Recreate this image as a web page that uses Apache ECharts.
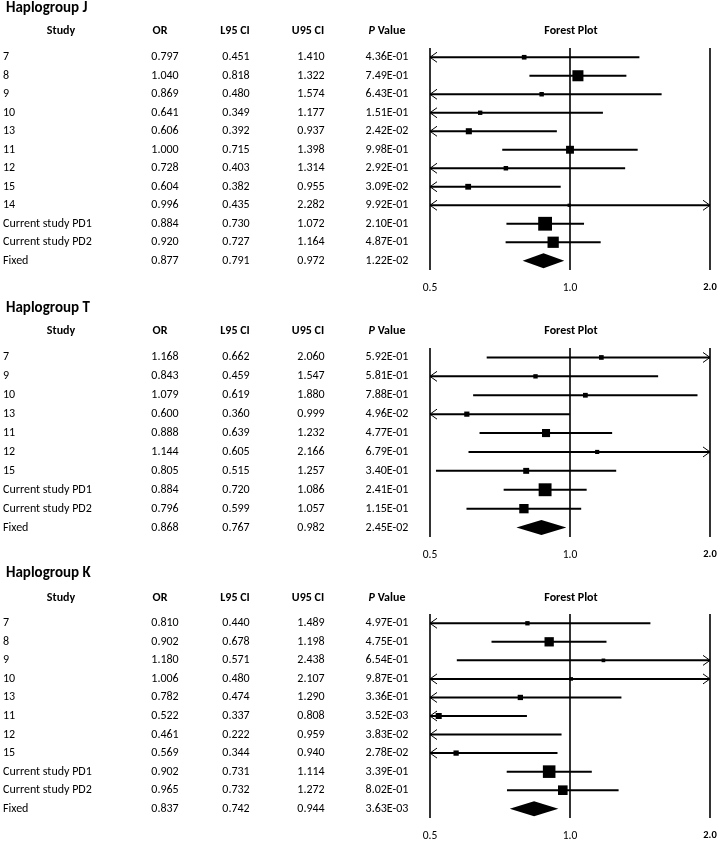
<!DOCTYPE html>
<html><head><meta charset="utf-8">
<script src="https://cdn.jsdelivr.net/npm/echarts@6/dist/echarts.min.js"></script>
<style>html,body{margin:0;padding:0;background:#fff}#c{width:720px;height:843px}</style>
</head><body><div id="c"></div>
<script>
// ---------- data ----------
const jStudy = ['7','8','9','10','13','11','12','15','14','Current study PD1','Current study PD2','Fixed'];
const jOR  = [0.797,1.040,0.869,0.641,0.606,1.000,0.728,0.604,0.996,0.884,0.920,0.877];
const jL95 = [0.451,0.818,0.480,0.349,0.392,0.715,0.403,0.382,0.435,0.730,0.727,0.791];
const jU95 = [1.410,1.322,1.574,1.177,0.937,1.398,1.314,0.955,2.282,1.072,1.164,0.972];
const jP   = ['4.36E-01','7.49E-01','6.43E-01','1.51E-01','2.42E-02','9.98E-01','2.92E-01','3.09E-02','9.92E-01','2.10E-01','4.87E-01','1.22E-02'];

const tStudy = ['7','9','10','13','11','12','15','Current study PD1','Current study PD2','Fixed'];
const tOR  = [1.168,0.843,1.079,0.600,0.888,1.144,0.805,0.884,0.796,0.868];
const tL95 = [0.662,0.459,0.619,0.360,0.639,0.605,0.515,0.720,0.599,0.767];
const tU95 = [2.060,1.547,1.880,0.999,1.232,2.166,1.257,1.086,1.057,0.982];
const tP   = ['5.92E-01','5.81E-01','7.88E-01','4.96E-02','4.77E-01','6.79E-01','3.40E-01','2.41E-01','1.15E-01','2.45E-02'];

const kStudy = ['7','8','9','10','13','11','12','15','Current study PD1','Current study PD2','Fixed'];
const kOR  = [0.810,0.902,1.180,1.006,0.782,0.522,0.461,0.569,0.902,0.965,0.837];
const kL95 = [0.440,0.678,0.571,0.480,0.474,0.337,0.222,0.344,0.731,0.732,0.742];
const kU95 = [1.489,1.198,2.438,2.107,1.290,0.808,0.959,0.940,1.114,1.272,0.944];
const kP   = ['4.97E-01','4.75E-01','6.54E-01','9.87E-01','3.36E-01','3.52E-03','3.83E-02','2.78E-02','3.39E-01','8.02E-01','3.63E-03'];

const axisTicks = [0.5, 1.0, 2.0];
const headers = ['Study','OR','L95 CI','U95 CI','P Value','Forest Plot'];

// ---------- layout ----------
const FONT = 'Carlito, Lato, "Open Sans", sans-serif';
const panels = [
  {name:'Haplogroup J', study:jStudy, or:jOR, l:jL95, u:jU95, p:jP, titleY:8,   headY:31,  top:48,  bottom:270},
  {name:'Haplogroup T', study:tStudy, or:tOR, l:tL95, u:tU95, p:tP, titleY:308, headY:331, top:348, bottom:537},
  {name:'Haplogroup K', study:kStudy, or:kOR, l:kL95, u:kU95, p:kP, titleY:573, headY:598, top:614, bottom:818}
];
const COLX = {study:3, or:165, l:236, u:311, p:387};
const HEADX = [61, 160, 235, 308, 387, 571];
const AXMIN = axisTicks[0], AXMAX = axisTicks[axisTicks.length-1];

function forestItem(params, api){
  const i = api.value(0), o = api.value(1), l = api.value(2), u = api.value(3), fixed = api.value(4);
  const y = api.coord([1, i])[1];
  const X = v => api.coord([v, i])[0];
  const xl = X(Math.max(l, AXMIN)), xu = X(Math.min(u, AXMAX)), xo = X(o);
  const ch = [];
  if (fixed) {
    ch.push({type:'polygon', shape:{points:[[xl,y],[xo,y-7.5],[xu,y],[xo,y+7.5]]}, style:{fill:'#000'}});
  } else {
    ch.push({type:'line', shape:{x1:xl,y1:y,x2:xu,y2:y}, style:{stroke:'#000', lineWidth:2}});
    if (l < AXMIN) ch.push({type:'polyline', shape:{points:[[xl+7,y-5],[xl,y],[xl+7,y+5]]}, style:{stroke:'#000', lineWidth:1, fill:null}});
    if (u > AXMAX) ch.push({type:'polyline', shape:{points:[[xu-7,y-5],[xu,y],[xu-7,y+5]]}, style:{stroke:'#000', lineWidth:1, fill:null}});
    if (o >= AXMIN && o <= AXMAX) {
      const s = Math.max(2, 5.3 / Math.log(u / l));
      ch.push({type:'rect', shape:{x:xo-s/2, y:y-s/2, width:s, height:s}, style:{fill:'#000'}});
    }
  }
  return {type:'group', children:ch};
}

function txt(x, y, text, align, extra){
  return Object.assign({type:'text', x:x, y:y, style:Object.assign({text:text, align:align, verticalAlign:'middle',
    fontSize:12, fontFamily:FONT, fill:'#000'}, extra||{})});
}

function makeTableItem(pn){
  return function(params, api){
    const i = api.value(0);
    const y = api.coord([1, i])[1];
    return {type:'group', children:[
      txt(COLX.study, y, pn.study[i], 'left'),
      txt(COLX.or, y, pn.or[i].toFixed(3), 'center'),
      txt(COLX.l, y, pn.l[i].toFixed(3), 'center'),
      txt(COLX.u, y, pn.u[i].toFixed(3), 'center'),
      txt(COLX.p, y, pn.p[i], 'center')
    ]};
  };
}

const grid = [], xAxis = [], yAxis = [], series = [], graphic = [];
panels.forEach((pn, k) => {
  grid.push({left:430, width:280, top:pn.top, height:pn.bottom - pn.top, containLabel:false, outerBoundsMode:'none'});
  xAxis.push({type:'log', logBase:2, min:AXMIN, max:AXMAX, gridIndex:k,
    axisLine:{show:false}, axisTick:{show:false},
    splitLine:{show:true, lineStyle:{color:'#000', width:1.6}},
    axisLabel:{margin:12, fontFamily:FONT, fontSize:11.5, color:'#000',
      formatter: v => Math.abs(v - AXMAX) < 1e-6 ? '{b|' + AXMAX.toFixed(1) + '}' : v.toFixed(1),
      rich:{b:{fontWeight:'bold', fontSize:10.5, fontFamily:FONT, color:'#000'}}}});
  yAxis.push({type:'category', gridIndex:k, inverse:true, data:pn.study, show:false,
    axisLine:{show:false}, axisTick:{show:false}, splitLine:{show:false}});
  const rows = pn.study.map((s, i) => [i, pn.or[i], pn.l[i], pn.u[i], i === pn.study.length - 1 ? 1 : 0]);
  series.push({type:'custom', xAxisIndex:k, yAxisIndex:k, encode:{x:1, y:0}, data:rows, renderItem:forestItem, clip:false, silent:true, z:3});
  series.push({type:'custom', xAxisIndex:k, yAxisIndex:k, encode:{x:1, y:0}, data:rows, renderItem:makeTableItem(pn), clip:false, silent:true, z:3});

  graphic.push(txt(6, pn.titleY, pn.name, 'left', {fontSize:15, fontWeight:'bold'}));
  headers.forEach((h, j) => {
    if (h === 'P Value') {
      graphic.push(txt(HEADX[j], pn.headY, '{i|P} Value', 'center', {fontWeight:'bold',
        rich:{i:{fontStyle:'italic', fontWeight:'bold', fontSize:12, fontFamily:FONT, fill:'#000'}}}));
    } else {
      graphic.push(txt(HEADX[j], pn.headY, h, 'center', {fontWeight:'bold'}));
    }
  });
});

const chart = echarts.init(document.getElementById('c'), null, {renderer:'canvas'});
chart.setOption({animation:false, backgroundColor:'#fff', grid, xAxis, yAxis, series, graphic});
</script>
</body></html>
